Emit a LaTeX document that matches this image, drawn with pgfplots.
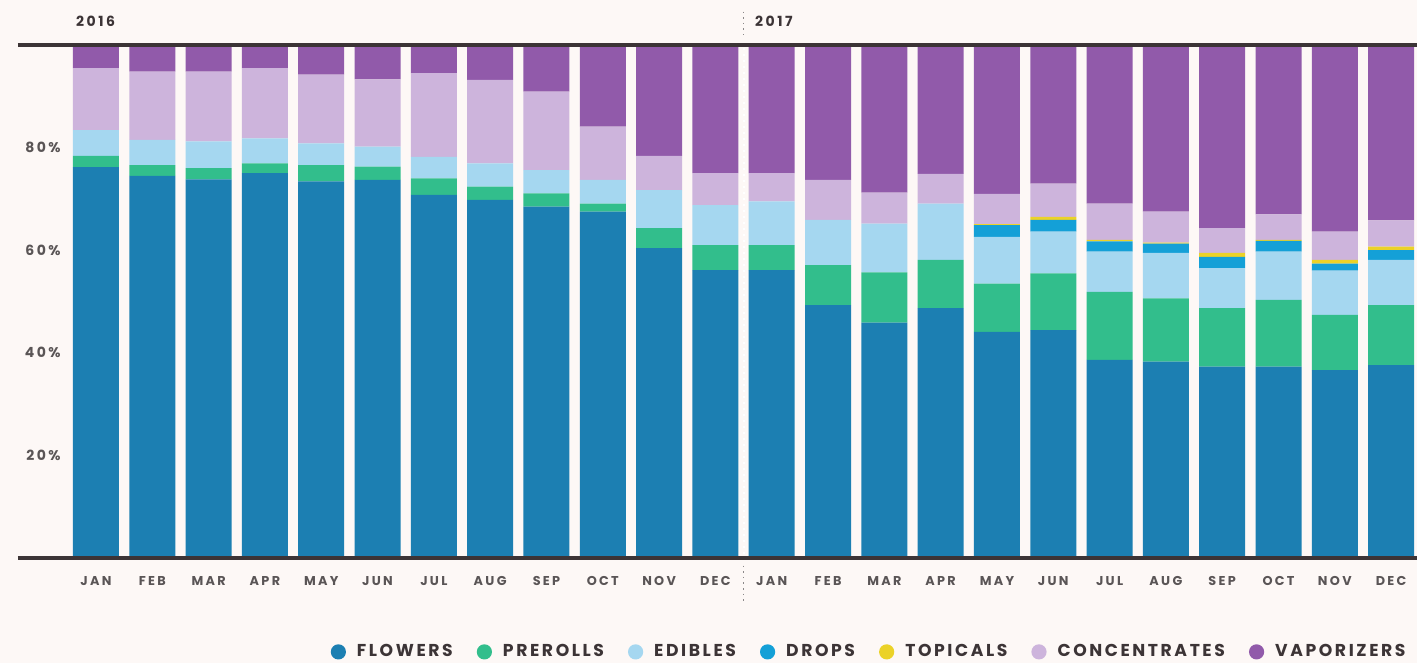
\documentclass[border=0pt]{standalone}
\usepackage{fontspec}
\setmainfont{Poppins}
\newfontfamily\spaced{Poppins}[LetterSpace=18]
\newfontfamily\legfont{Poppins}[LetterSpace=15]
\usepackage{pgfplots}
\pgfplotsset{compat=1.18}
\usepackage{pgfplotstable}

\definecolor{bg}{HTML}{FDF8F6}
\definecolor{rule}{HTML}{3C3436}
\definecolor{lbl}{HTML}{5A5556}
\definecolor{flo}{HTML}{1C7FB2}
\definecolor{pre}{HTML}{32BE8C}
\definecolor{edi}{HTML}{A5D7F0}
\definecolor{dro}{HTML}{14A0D7}
\definecolor{top}{HTML}{EBD228}
\definecolor{con}{HTML}{CDB4DC}
\definecolor{vap}{HTML}{915AAA}

% share of sales per month, 2016-2017 (percent)
\pgfplotstableread{
x  F    P    E    D   T   C    V
0  76.2 2.2  5.0  0   0   12.1 4.5
1  74.5 2.1  4.9  0   0   13.3 5.2
2  73.8 2.2  5.2  0   0   13.6 5.2
3  75.0 1.9  4.9  0   0   13.7 4.5
4  73.4 3.2  4.2  0   0   13.4 5.8
5  73.7 2.6  3.9  0   0   13.1 6.7
6  70.8 3.2  4.2  0   0   16.3 5.5
7  69.8 2.6  4.5  0   0   16.3 6.8
8  68.5 2.6  4.5  0   0   15.3 9.1
9  67.5 1.6  4.6  0   0   10.4 15.9
10 60.4 3.9  7.4  0   0   6.7  21.6
11 56.1 4.9  7.8  0   0   6.2  25.0
12 56.1 4.9  8.5  0   0   5.5  25.0
13 49.3 7.8  8.8  0   0   7.8  26.3
14 45.9 9.8  9.5  0   0   6.0  28.8
15 48.7 9.4  11.0 0   0   5.8  25.1
16 44.1 9.4  9.1  2.3 0.2 5.9  29.0
17 44.4 11.1 8.1  2.3 0.6 6.5  27.0
18 38.6 13.3 7.8  2.0 0.3 7.1  30.9
19 38.3 12.3 8.9  1.8 0.2 6.0  32.5
20 37.3 11.4 7.8  2.2 0.8 4.8  35.7
21 37.3 13.0 9.4  2.1 0.2 5.0  33.0
22 36.6 10.8 8.6  1.4 0.7 5.5  36.4
23 37.6 11.7 8.8  1.9 0.7 5.1  34.2
}\sales

\begin{document}
\begin{tikzpicture}
\useasboundingbox[fill=bg] (-9pt,-52.5pt) rectangle (699.5pt,279pt);
\begin{axis}[
    at={(0,0)}, anchor=south west,
    scale only axis,
    width=699.5pt, height=256.5pt,
    xmin=-1.385, xmax=23.46,
    ymin=0, ymax=100,
    ybar stacked,
    bar width=23pt,
    clip=false,
    axis line style={draw=none},
    ytick=\empty,
    xtick={0,...,23},
    xticklabels={JAN,FEB,MAR,APR,MAY,JUN,JUL,AUG,SEP,OCT,NOV,DEC,
                 JAN,FEB,MAR,APR,MAY,JUN,JUL,AUG,SEP,OCT,NOV,DEC},
    major tick length=0pt,
    x tick label style={font=\fontsize{6.4}{7}\spaced\bfseries,
        text=lbl, yshift=-5.5pt},
    legend image code/.code={\fill[#1] (0pt,0pt) circle (3.8pt);},
    legend style={at={(0.219,-0.183)}, anchor=west, draw=none, fill=none,
        font=\fontsize{8.6}{9}\legfont\bfseries, text=rule,
        legend columns=-1,
        /tikz/every even column/.append style={column sep=10pt},
        /tikz/every odd column/.append style={column sep=3.5pt}},
]
% frame rules
\draw[rule, line width=1.6pt] (axis cs:-1.385,100) -- (axis cs:23.46,100);
\draw[rule, line width=1.6pt] (axis cs:-1.385,0) -- (axis cs:23.46,0);

\addplot[fill=flo, draw=none] table[x=x, y=F] {\sales};
\addplot[fill=pre, draw=none] table[x=x, y=P] {\sales};
\addplot[fill=edi, draw=none] table[x=x, y=E] {\sales};
\addplot[fill=dro, draw=none] table[x=x, y=D] {\sales};
\addplot[fill=top, draw=none] table[x=x, y=T] {\sales};
\addplot[fill=con, draw=none] table[x=x, y=C] {\sales};
\addplot[fill=vap, draw=none] table[x=x, y=V] {\sales};
\legend{FLOWERS, PREROLLS, EDIBLES, DROPS, TOPICALS, CONCENTRATES, VAPORIZERS}

% baseline under the bars takes the flower colour
\draw[flo, line width=1.6pt] (axis cs:-0.41,0) -- (axis cs:23.46,0);

% year divider
\draw[white, line width=1pt, dotted] (axis cs:11.5,99.5) -- (axis cs:11.5,0.5);
\draw[lbl!70, line width=0.8pt, dotted] (axis cs:11.5,106.5) -- (axis cs:11.5,102);
\draw[lbl!70, line width=0.8pt, dotted] (axis cs:11.5,-1.5) -- (axis cs:11.5,-9);

\node[anchor=west, inner sep=0pt, font=\fontsize{7}{8}\spaced\bfseries, text=rule]
    at (axis cs:-0.36,104.6) {2016};
\node[anchor=west, inner sep=0pt, font=\fontsize{7}{8}\spaced\bfseries, text=rule]
    at (axis cs:11.70,104.6) {2017};
\node[anchor=east, inner sep=0pt, font=\fontsize{7}{8}\spaced\bfseries, text=lbl]
    at (axis cs:-0.62,20) {20\%};
\node[anchor=east, inner sep=0pt, font=\fontsize{7}{8}\spaced\bfseries, text=lbl]
    at (axis cs:-0.62,40) {40\%};
\node[anchor=east, inner sep=0pt, font=\fontsize{7}{8}\spaced\bfseries, text=lbl]
    at (axis cs:-0.62,60) {60\%};
\node[anchor=east, inner sep=0pt, font=\fontsize{7}{8}\spaced\bfseries, text=lbl]
    at (axis cs:-0.62,80) {80\%};
\end{axis}
\end{tikzpicture}
\end{document}
